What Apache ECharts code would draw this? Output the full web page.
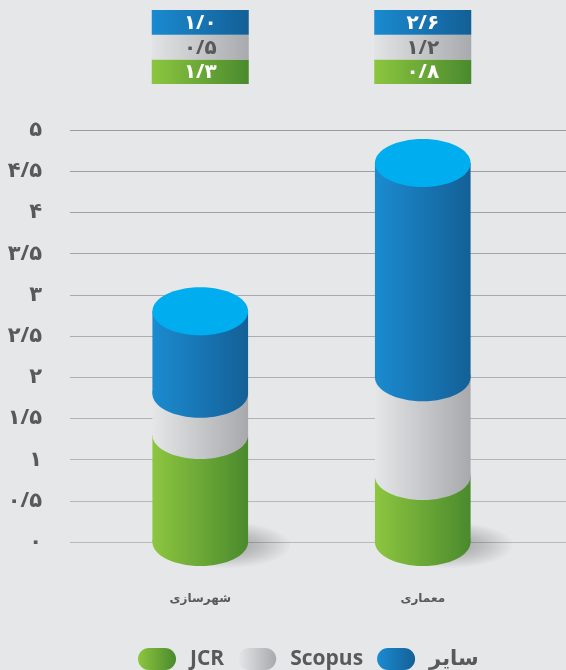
<!DOCTYPE html>
<html>
<head>
<meta charset="utf-8">
<script src="https://cdn.jsdelivr.net/npm/echarts@6/dist/echarts.min.js"></script>
<style>
  html, body { margin: 0; padding: 0; background: #e6e7e8; }
  #chart { width: 566px; height: 670px; }
</style>
</head>
<body>
<div id="chart"></div>
<script>
// Categories and stacked values (JCR at the bottom, then Scopus, then other)
const categories = ['شهرسازی', 'معماری'];
const jcrValues = [1.3, 0.8];
const scopusValues = [0.5, 1.2];
const otherValues = [1.0, 2.6];
const seriesNames = ['JCR', 'Scopus', 'سایر'];
const yMin = 0;
const yMax = 5;
const yStep = 0.5;

const FONT = '"Open Sans", "DejaVu Sans", sans-serif';
const TEXT_GREY = '#58595b';
const FA_DIGITS = '۰۱۲۳۴۵۶۷۸۹';

// Persian digits with "/" as the decimal separator
function toFa(v, fixed) {
  const s = fixed ? v.toFixed(1) : String(+v.toFixed(2));
  return s.replace(/\d/g, d => FA_DIGITS[d]).replace('.', '/');
}

function hGrad(c0, c1) {
  return new echarts.graphic.LinearGradient(0, 0, 1, 0, [
    { offset: 0, color: c0 },
    { offset: 1, color: c1 }
  ]);
}

const styles = [
  { body: ['#8dc63f', '#4a8a2d'], cell: ['#8cc63f', '#4a8a2e'], text: '#ffffff' },
  { body: ['#e5e6e8', '#a8a9ac'], cell: ['#e2e3e5', '#a9aaad'], text: TEXT_GREY },
  { body: ['#1b8bd0', '#146097'], cell: ['#1a8ad0', '#135f96'], text: '#ffffff' }
];
const TOP_CAP = '#00aeef';

// Build [categoryIndex, base, top, value] rows for each stacked layer
const layers = [jcrValues, scopusValues, otherValues];
const layerData = layers.map((vals, k) =>
  vals.map((v, i) => {
    let base = 0;
    for (let j = 0; j < k; j++) base += layers[j][i];
    return [i, base, base + v, v];
  })
);

const CELL_TOP = 10;
const CELL_H = 24.7;
const CELL_W = 97;
const RY = 24;

function segmentRenderer(k) {
  return function (params, api) {
    const idx = api.value(0);
    const base = api.value(1);
    const top = api.value(2);
    const val = api.value(3);
    const pBot = api.coord([idx, base]);
    const pTop = api.coord([idx, top]);
    const band = api.size([1, 0])[0];
    const hw = band * 0.215;
    const cx = pBot[0];
    const st = styles[k];
    const fill = hGrad(st.body[0], st.body[1]);
    const children = [];

    if (k === 0) {
      // soft floor shadow to the right of the cylinder: stacked translucent ellipses
      const steps = 20;
      for (let s = 0; s < steps; s++) {
        const f = 1 - s / steps;
        children.push({
          type: 'ellipse',
          shape: { cx: cx + 26, cy: pBot[1] + 3, rx: 64 * f, ry: 23 * f },
          style: { fill: 'rgba(0,0,0,0.016)' }
        });
      }
    }

    children.push({
      type: 'rect',
      shape: { x: cx - hw, y: pTop[1], width: hw * 2, height: pBot[1] - pTop[1] },
      style: { fill: fill }
    });
    children.push({
      type: 'ellipse',
      shape: { cx: cx, cy: pBot[1], rx: hw, ry: RY },
      style: { fill: fill }
    });
    if (k === layers.length - 1) {
      children.push({
        type: 'ellipse',
        shape: { cx: cx, cy: pTop[1], rx: hw, ry: RY },
        style: { fill: TOP_CAP }
      });
    }

    // value cell in the table above the chart
    const row = layers.length - 1 - k;
    const cy = CELL_TOP + row * CELL_H;
    children.push({
      type: 'rect',
      shape: { x: cx - CELL_W / 2, y: cy, width: CELL_W, height: CELL_H },
      style: { fill: hGrad(st.cell[0], st.cell[1]) }
    });
    children.push({
      type: 'text',
      x: cx,
      y: cy + CELL_H / 2 + 1,
      style: {
        text: toFa(val, true),
        fill: st.text,
        font: 'bold 20px ' + FONT,
        align: 'center',
        verticalAlign: 'middle'
      }
    });

    return { type: 'group', children: children };
  };
}

const gridLineColors = ['#b8b9bb', '#b6b7b9', '#b4b5b7', '#b1b2b4', '#aeafb1', '#abacae', '#a8a9ab', '#a4a5a8', '#a1a2a5', '#9e9fa2', '#9a9b9e'];

const chart = echarts.init(document.getElementById('chart'), null, { renderer: 'canvas' });
chart.setOption({
  backgroundColor: '#e6e7e8',
  animation: false,
  textStyle: { fontFamily: FONT },
  grid: [
    { left: 70, right: 0, top: 130, bottom: 128 },
    { left: 89, right: 32, top: 130, bottom: 128 }
  ],
  xAxis: [
    { type: 'value', gridIndex: 0, show: false, min: 0, max: 1 },
    {
      type: 'category',
      gridIndex: 1,
      data: categories,
      axisLine: { show: false },
      axisTick: { show: false },
      axisLabel: {
        margin: 51,
        fontSize: 12,
        fontWeight: 'bold',
        color: TEXT_GREY,
        fontFamily: FONT
      }
    }
  ],
  yAxis: [
    {
      type: 'value',
      gridIndex: 0,
      min: yMin,
      max: yMax,
      interval: yStep,
      axisLine: { show: false },
      axisTick: { show: false },
      axisLabel: {
        margin: 28,
        fontSize: 21,
        fontWeight: 'bold',
        color: TEXT_GREY,
        fontFamily: FONT,
        formatter: v => toFa(v, false)
      },
      splitLine: { lineStyle: { color: gridLineColors, width: 1 } }
    },
    { type: 'value', gridIndex: 1, min: yMin, max: yMax, interval: yStep, show: false }
  ],
  legend: {
    left: 133,
    top: 643,
    itemWidth: 38,
    itemHeight: 22,
    itemGap: 14,
    icon: 'path://M11,0 L27,0 A11,11 0 0 1 27,22 L11,22 A11,11 0 0 1 11,0 Z',
    data: seriesNames,
    textStyle: {
      fontSize: 21,
      fontWeight: 'bold',
      color: TEXT_GREY,
      fontFamily: FONT,
      padding: [0, 0, 0, 9]
    }
  },
  series: layerData.map((data, k) => ({
    type: 'custom',
    name: seriesNames[k],
    xAxisIndex: 1,
    yAxisIndex: 1,
    itemStyle: { color: hGrad(styles[k].body[0], styles[k].body[1]) },
    encode: { x: 0, y: [1, 2] },
    renderItem: segmentRenderer(k),
    data: data
  }))
});
</script>
</body>
</html>
